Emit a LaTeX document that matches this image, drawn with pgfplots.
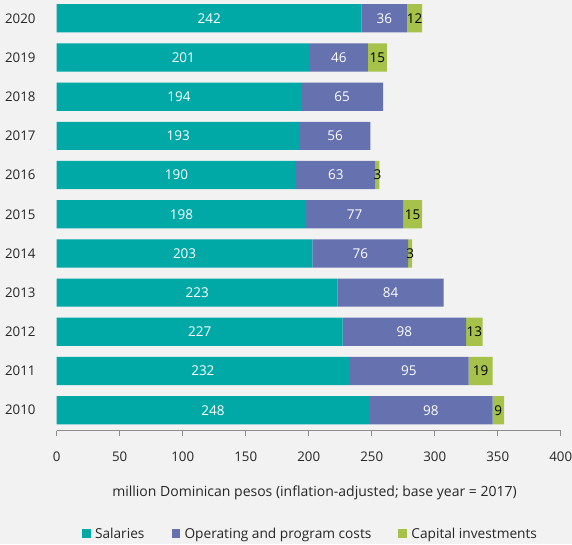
\documentclass[border=0pt]{standalone}
\usepackage{fontspec}
\setmainfont{Open Sans}
\usepackage{pgfplots}
\pgfplotsset{compat=1.18}
\usepackage{pgfplotstable}
\definecolor{bg}{HTML}{F2F2F2}
\definecolor{cteal}{HTML}{00A8A6}
\definecolor{cblue}{HTML}{6672B0}
\definecolor{cgreen}{HTML}{A6C24A}
\definecolor{txt}{HTML}{262626}
\definecolor{axgray}{HTML}{8C8C8C}

\pgfplotstableread{
idx year sal op cap
0 2010 248 98 9
1 2011 232 95 19
2 2012 227 98 13
3 2013 223 84 0
4 2014 203 76 3
5 2015 198 77 15
6 2016 190 63 3
7 2017 193 56 0
8 2018 194 65 0
9 2019 201 46 15
10 2020 242 36 12
}\datatable

\begin{document}
\begin{tikzpicture}[font=\fontsize{13pt}{15pt}\selectfont]
\path[fill=bg, use as bounding box] (-56.7pt,-113.3pt) rectangle (515.3pt,430.7pt);
\begin{axis}[
  at={(0pt,0pt)}, anchor=south west,
  scale only axis, width=504pt, height=430.7pt,
  xbar stacked, bar width=28.2pt,
  xmin=0, xmax=400, ymin=-0.523, ymax=10.467,
  enlargelimits=false, clip=false,
  ytick={0,1,2,3,4,5,6,7,8,9,10},
  yticklabels={2010,2011,2012,2013,2014,2015,2016,2017,2018,2019,2020},
  xtick={0,50,100,150,200,250,300,350,400},
  axis x line*=bottom, axis y line*=left,
  x axis line style={draw=axgray, line width=0.8pt, -},
  y axis line style={draw=none},
  ytick style={draw=none},
  xtick style={draw=axgray, line width=0.8pt},
  tick align=outside, major tick length=5pt,
  /pgf/number format/assume math mode=true,
  xticklabel style={anchor=center, inner sep=0pt, yshift=-21pt, text=txt, font=\fontsize{13.3pt}{15pt}\selectfont},
  yticklabel style={anchor=east, inner sep=0pt, xshift=-16pt, text=txt, font=\fontsize{13.3pt}{15pt}\selectfont},
  xlabel={million Dominican pesos (inflation-adjusted; base year = 2017)},
  xlabel style={at={(axis description cs:0.5115,0)}, anchor=center, yshift=-62pt, text=txt, inner sep=0pt, font=\fontsize{14pt}{16pt}\selectfont},
  legend columns=3,
  legend style={at={(0.5016,-0.2391)}, anchor=center, draw=none, fill=none, inner sep=0pt,
    nodes={inner sep=0pt, text=txt, font=\fontsize{13.7pt}{15pt}\selectfont},
    /tikz/every odd column/.style={column sep=4.3pt},
    /tikz/every even column/.style={column sep=27pt}},
  legend image code/.code={\fill[#1, draw=none] (0pt,-4.35pt) rectangle (8.7pt,4.35pt);},
  point meta=explicit,
]
\addplot[fill=cteal, draw=none,
  visualization depends on={\thisrow{sal} \as \val},
  nodes near coords={\ifdim\val pt>0pt \pgfmathprintnumber{\pgfplotspointmeta}\fi},
  every node near coord/.style={anchor=center, inner sep=0pt, text=white, font=\fontsize{13.5pt}{15pt}\selectfont}]
  table[x=sal, y=idx, meta=sal]{\datatable};
\addplot[fill=cblue, draw=none,
  visualization depends on={\thisrow{op} \as \val},
  nodes near coords={\ifdim\val pt>0pt \pgfmathprintnumber{\pgfplotspointmeta}\fi},
  every node near coord/.style={anchor=center, inner sep=0pt, text=white, font=\fontsize{13.5pt}{15pt}\selectfont}]
  table[x=op, y=idx, meta=op]{\datatable};
\addplot[fill=cgreen, draw=none,
  visualization depends on={\thisrow{cap} \as \val},
  nodes near coords={\ifdim\val pt>0pt \pgfmathprintnumber{\pgfplotspointmeta}\fi},
  every node near coord/.style={anchor=center, inner sep=0pt, text=black, font=\fontsize{13.5pt}{15pt}\selectfont}]
  table[x=cap, y=idx, meta=cap]{\datatable};
\legend{Salaries, Operating and program costs, Capital investments}
\end{axis}
\end{tikzpicture}
\end{document}
